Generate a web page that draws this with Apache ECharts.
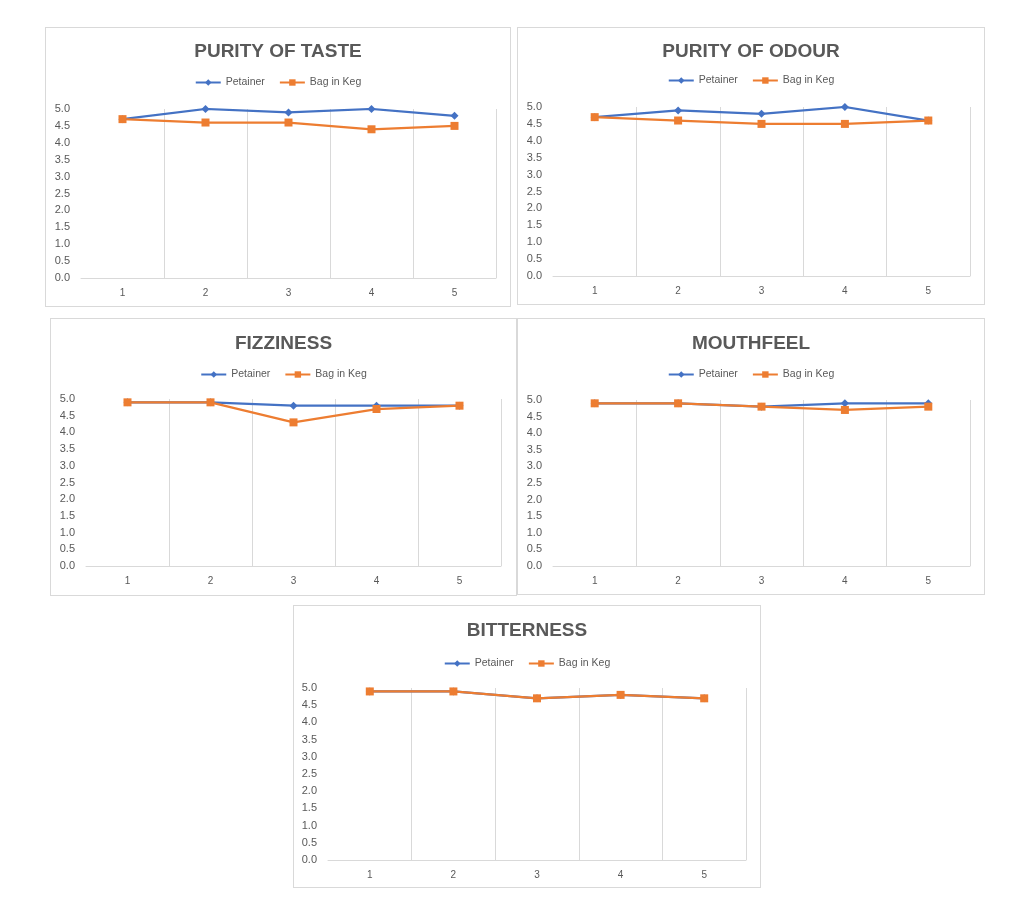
<!DOCTYPE html>
<html>
<head>
<meta charset="utf-8">
<script src="https://cdn.jsdelivr.net/npm/echarts@6/dist/echarts.min.js"></script>
<style>
  html, body { margin: 0; padding: 0; background: #fff; width: 1024px; height: 911px; overflow: hidden; }
  .panel { position: absolute; box-sizing: border-box; border: 1px solid #d9d9d9; background: #fff; }
</style>
</head>
<body>
<div id="p1" class="panel"></div>
<div id="p2" class="panel"></div>
<div id="p3" class="panel"></div>
<div id="p4" class="panel"></div>
<div id="p5" class="panel"></div>
<script>
  // data
  const categories = ['1', '2', '3', '4', '5'];
  const seriesNames = ['Petainer', 'Bag in Keg'];
  const yTicks = [0, 5, 0.5]; // min, max, step

  const titles = ['PURITY OF TASTE', 'PURITY OF ODOUR', 'FIZZINESS', 'MOUTHFEEL', 'BITTERNESS'];

  const tastePetainer = [4.7, 5.0, 4.9, 5.0, 4.8];
  const tasteBag = [4.7, 4.6, 4.6, 4.4, 4.5];
  const odourPetainer = [4.7, 4.9, 4.8, 5.0, 4.6];
  const odourBag = [4.7, 4.6, 4.5, 4.5, 4.6];
  const fizzPetainer = [4.9, 4.9, 4.8, 4.8, 4.8];
  const fizzBag = [4.9, 4.9, 4.3, 4.7, 4.8];
  const mouthPetainer = [4.9, 4.9, 4.8, 4.9, 4.9];
  const mouthBag = [4.9, 4.9, 4.8, 4.7, 4.8];
  const bitterPetainer = [4.9, 4.9, 4.7, 4.8, 4.7];
  const bitterBag = [4.9, 4.9, 4.7, 4.8, 4.7];

  const panelData = [
    [tastePetainer, tasteBag],
    [odourPetainer, odourBag],
    [fizzPetainer, fizzBag],
    [mouthPetainer, mouthBag],
    [bitterPetainer, bitterBag]
  ];

  // box position + inner plot layout (px)
  const layout = [
    { id: 'p1', x: 45, y: 27, w: 466, h: 280, gl: 35, gt: 81, gw: 415, gh: 169, tt: 9, lt: 44 },
    { id: 'p2', x: 517, y: 27, w: 468, h: 278, gl: 35, gt: 79, gw: 417, gh: 169, tt: 9, lt: 42 },
    { id: 'p3', x: 50, y: 318, w: 467, h: 278, gl: 35, gt: 80, gw: 415, gh: 167, tt: 10, lt: 45 },
    { id: 'p4', x: 517, y: 318, w: 468, h: 277, gl: 35, gt: 81, gw: 417, gh: 166, tt: 10, lt: 45 },
    { id: 'p5', x: 293, y: 605, w: 468, h: 283, gl: 34, gt: 82, gw: 418, gh: 172, tt: 10, lt: 47 }
  ];

  const colors = ['#4472C4', '#ED7D31'];
  const symbols = ['diamond', 'rect'];
  const symbolSizes = [8, 8];
  const textColor = '#595959';
  const gridColor = '#d9d9d9';
  const font = "'Liberation Sans', Arial, sans-serif";

  layout.forEach((L, i) => {
    const el = document.getElementById(L.id);
    el.style.left = L.x + 'px';
    el.style.top = L.y + 'px';
    el.style.width = L.w + 'px';
    el.style.height = L.h + 'px';
    const chart = echarts.init(el, null, { renderer: 'canvas' });
    chart.setOption({
      animation: false,
      color: colors,
      title: {
        text: titles[i],
        left: 'center',
        top: L.tt,
        textStyle: { fontFamily: font, fontSize: 19, fontWeight: 'bold', color: textColor }
      },
      legend: {
        top: L.lt,
        left: 'center',
        itemWidth: 25,
        itemHeight: 8,
        itemGap: 14,
        textStyle: { fontFamily: font, fontSize: 10.5, color: textColor },
        data: seriesNames
      },
      grid: { left: L.gl, top: L.gt, width: L.gw, height: L.gh, containLabel: false },
      xAxis: {
        type: 'category',
        data: categories,
        boundaryGap: true,
        axisLine: { show: true, lineStyle: { color: gridColor, width: 1 } },
        axisTick: { show: false },
        axisLabel: { fontFamily: font, fontSize: 10, color: textColor, margin: 10 },
        splitLine: { show: true, showMinLine: false, lineStyle: { color: gridColor, width: 1 } }
      },
      yAxis: {
        type: 'value',
        min: yTicks[0],
        max: yTicks[1],
        interval: yTicks[2],
        axisLine: { show: false },
        axisTick: { show: false },
        splitLine: { show: false },
        axisLabel: {
          fontFamily: font, fontSize: 11, color: textColor, margin: 11,
          formatter: v => v.toFixed(1)
        }
      },
      series: seriesNames.map((name, k) => ({
        name: name,
        type: 'line',
        data: panelData[i][k],
        symbol: symbols[k],
        symbolSize: symbolSizes[k],
        showAllSymbol: true,
        lineStyle: { width: 2.25, color: colors[k] },
        itemStyle: { color: colors[k] }
      }))
    });
  });
</script>
</body>
</html>
